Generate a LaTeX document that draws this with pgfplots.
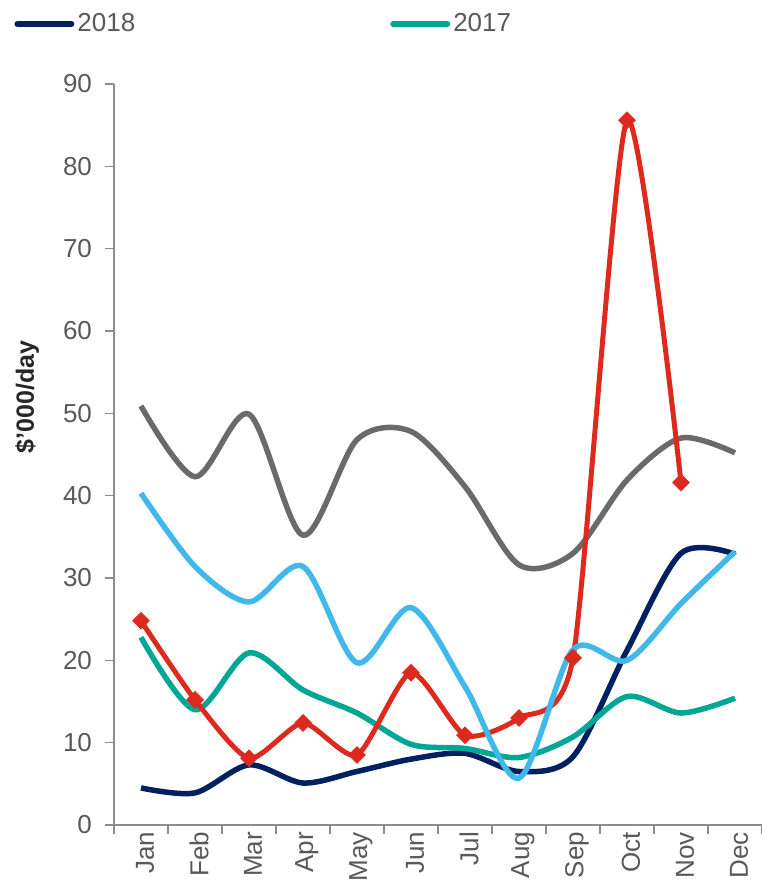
\documentclass[border=0pt]{standalone}
\usepackage{pgfplots}
\pgfplotsset{compat=1.18}
\usepackage{fontspec}
\setmainfont{Liberation Sans}
\definecolor{cNavy}{RGB}{0,32,96}
\definecolor{cTeal}{RGB}{0,166,150}
\definecolor{cGrey}{RGB}{105,106,108}
\definecolor{cLBlue}{RGB}{65,184,234}
\definecolor{cRed}{RGB}{220,43,30}
\definecolor{cAxis}{RGB}{140,140,140}
\definecolor{cText}{RGB}{89,89,89}
\begin{document}
\begin{tikzpicture}
\begin{axis}[
  name=ax,
  scale only axis,
  width=324pt, height=370.5pt,
  xmin=0.5, xmax=12.5,
  ymin=0, ymax=90,
  clip=false,
  axis x line=bottom, axis y line=left,
  axis line style={-, draw=cAxis, line width=0.8pt},
  tick align=outside,
  major tick length=4.5pt,
  tick style={draw=cAxis, line width=0.8pt},
  ytick={0,10,...,90},
  xtick={0.5,1.5,...,12.5},
  xticklabels={},
  extra x ticks={1,2,3,4,5,6,7,8,9,10,11,12},
  extra x tick labels={Jan,Feb,Mar,Apr,May,Jun,Jul,Aug,Sep,Oct,Nov,Dec},
  extra x tick style={major tick length=0pt, tick style={draw=none},
    xticklabel style={rotate=90, anchor=east, yshift=-2pt}},
  /pgf/number format/assume math mode=true,
  tick label style={font=\fontsize{13}{15}\selectfont, text=cText},
  yticklabel style={xshift=-3pt},
  ylabel={\$'000/day},
  every axis y label/.style={at={(axis description cs:-0.134,0.578)}, rotate=90, anchor=center, font=\bfseries\fontsize{12.5}{14}\selectfont, text=black!85},
  legend columns=2,
  legend style={draw=none, fill=none, inner sep=0pt, at={(axis description cs:-0.1543,1.081)}, anchor=west,
    font=\fontsize{13}{15}\selectfont, text=cText,
    /tikz/every even column/.append style={column sep=126pt},
    nodes={inner sep=1.5pt}},
  legend image code/.code={\draw[#1, line width=3pt, line cap=round] (0pt,0pt) -- (27pt,0pt);},
  legend cell align=left,
]
\addplot[cGrey, line width=2.75pt, smooth, forget plot] coordinates {
 (1,50.9) (2,42.3) (3,49.9) (4,35.2) (5,46.8) (6,47.8) (7,41.1) (8,31.6) (9,33.0) (10,41.9) (11,47.0) (12,45.2)};
\addplot[cNavy, line width=2.75pt, smooth] coordinates {
 (1,4.5) (2,3.9) (3,7.3) (4,5.1) (5,6.5) (6,8.0) (7,8.7) (8,6.5) (9,8.3) (10,21.2) (11,33.0) (12,32.9)};
\addlegendentry{2018}
\addplot[cTeal, line width=2.75pt, smooth] coordinates {
 (1,22.8) (2,14.0) (3,20.9) (4,16.4) (5,13.6) (6,9.8) (7,9.3) (8,8.2) (9,10.7) (10,15.6) (11,13.6) (12,15.4)};
\addlegendentry{2017}
\addplot[cRed, line width=2.5pt, smooth, tension=0.4, mark=square*, mark size=2.9pt, mark options={solid, rotate=45, fill=cRed, draw=cRed, line width=0.5pt}, forget plot] coordinates {
 (1,24.8) (2,15.2) (3,8.1) (4,12.4) (5,8.5) (6,18.5) (7,10.9) (8,13.0) (9,20.3) (10,85.6) (11,41.6)};
\addplot[cLBlue, line width=2.75pt, smooth, forget plot] coordinates {
 (1,40.3) (2,31.4) (3,27.1) (4,31.4) (5,19.7) (6,26.4) (7,16.8) (8,5.7) (9,21.3) (10,20.0) (11,26.9) (12,33.2)};
\end{axis}
\pgfresetboundingbox
\path[use as bounding box] ([shift={(-57pt,-34.5pt)}]ax.south west) rectangle ([shift={(323.5pt,412.5pt)}]ax.south west);
\end{tikzpicture}
\end{document}
